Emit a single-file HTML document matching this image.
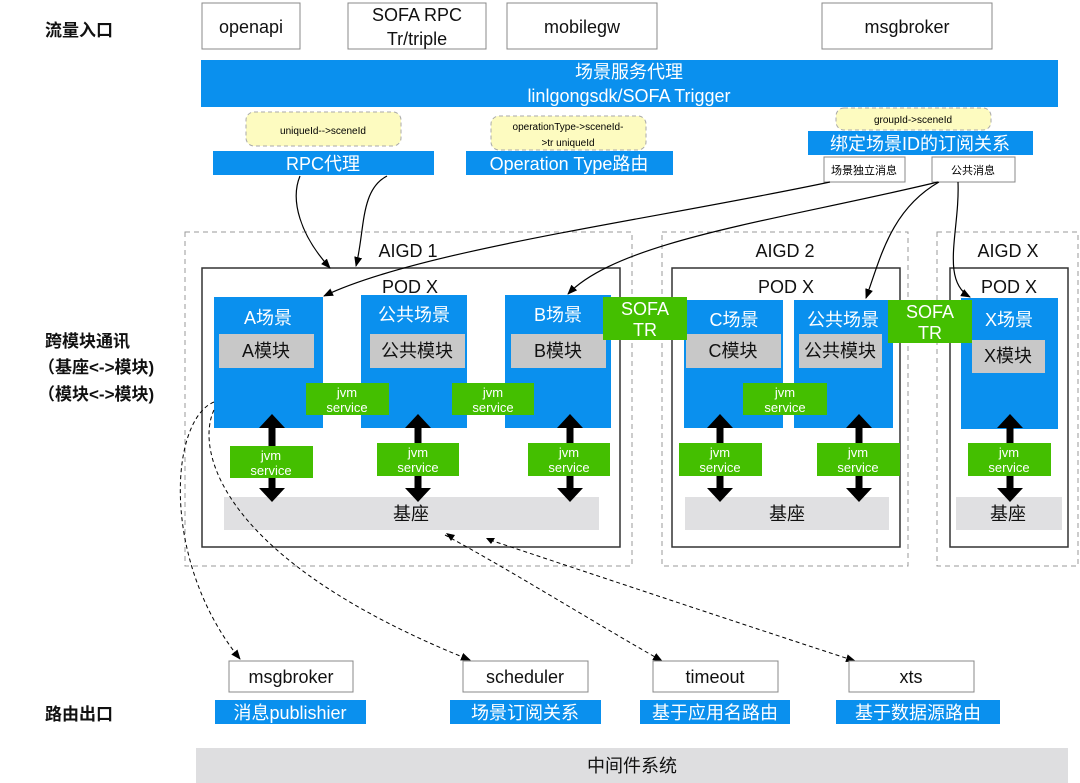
<!DOCTYPE html>
<html><head><meta charset="utf-8"><style>
html,body{margin:0;padding:0;background:#fff;}
svg{display:block;font-family:"Liberation Sans","Noto Sans CJK SC",sans-serif;}
</style></head><body>
<svg width="1080" height="783" viewBox="0 0 1080 783" xmlns="http://www.w3.org/2000/svg">
<defs>
<marker id="ar" markerWidth="10" markerHeight="8" refX="9" refY="4" orient="auto" markerUnits="userSpaceOnUse"><path d="M0,0 L10,4 L0,8 z" fill="#000"/></marker>
<g id="da" fill="#000"><rect x="-3.5" y="8" width="7" height="64"/><path d="M-13,10 L0,-4 L13,10z"/><path d="M-13,70 L0,84 L13,70z"/></g>
</defs>
<style>
.w{fill:#fff;stroke:#888;stroke-width:1}
.b{fill:#0a90ee}
.g{fill:#44bf00}
.gr{fill:#c8c8c8}
.bs{fill:#e0e0e2}
.t{font-size:18px;fill:#111;text-anchor:middle}
.tw{font-size:18px;fill:#fff;text-anchor:middle}
.tg{font-size:13px;fill:#fff;text-anchor:middle}
.lbl{font-size:17px;fill:#111;font-weight:bold}
.y{fill:#fdfbc0;stroke:#aaa;stroke-dasharray:4,3}
</style>
<!-- left labels -->
<text class="lbl" x="45" y="36">流量入口</text>
<text class="lbl" x="45" y="347">跨模块通讯</text>
<text class="lbl" x="38" y="373">（基座&lt;-&gt;模块)</text>
<text class="lbl" x="38" y="400">（模块&lt;-&gt;模块)</text>
<text class="lbl" x="45" y="720">路由出口</text>
<!-- top boxes -->
<rect class="w" x="202" y="3" width="98" height="46"/><text class="t" x="251" y="33">openapi</text>
<rect class="w" x="348" y="3" width="138" height="46"/><text class="t" x="417" y="21">SOFA RPC</text><text class="t" x="417" y="45">Tr/triple</text>
<rect class="w" x="507" y="3" width="150" height="46"/><text class="t" x="582" y="33">mobilegw</text>
<rect class="w" x="822" y="3" width="170" height="46"/><text class="t" x="907" y="33">msgbroker</text>
<rect class="b" x="201" y="60" width="857" height="47"/>
<text class="tw" x="629" y="78">场景服务代理</text>
<text class="tw" x="629" y="102">linlgongsdk/SOFA Trigger</text>
<!-- yellow notes -->
<rect class="y" x="246" y="112" width="155" height="34" rx="8"/><text x="323" y="134" font-size="10" text-anchor="middle">uniqueId-->sceneId</text>
<rect class="y" x="491" y="116" width="155" height="34" rx="8"/><text x="568" y="130" font-size="10" text-anchor="middle">operationType->sceneId-</text><text x="568" y="146" font-size="10" text-anchor="middle">>tr uniqueId</text>
<rect class="y" x="836" y="108" width="155" height="22" rx="8"/><text x="913" y="123" font-size="10" text-anchor="middle">groupId->sceneId</text>
<rect class="b" x="213" y="151" width="221" height="24"/><text class="tw" x="323" y="170">RPC代理</text>
<rect class="b" x="466" y="151" width="207" height="24"/><text class="tw" x="569" y="170">Operation Type路由</text>
<rect class="b" x="808" y="131" width="225" height="24"/><text class="tw" x="920" y="150">绑定场景ID的订阅关系</text>
<rect class="w" x="824" y="157" width="81" height="25"/><text x="864" y="174" font-size="11" text-anchor="middle">场景独立消息</text>
<rect class="w" x="932" y="157" width="83" height="25"/><text x="973" y="174" font-size="11" text-anchor="middle">公共消息</text>
<!-- AIGD containers -->
<g fill="none" stroke="#999" stroke-dasharray="5,4">
<rect x="185" y="232" width="447" height="334"/>
<rect x="662" y="232" width="246" height="334"/>
<rect x="937" y="232" width="141" height="334"/>
</g>
<text class="t" x="408" y="257">AIGD 1</text>
<text class="t" x="785" y="257">AIGD 2</text>
<text class="t" x="1008" y="257">AIGD X</text>
<g fill="#fff" stroke="#333" stroke-width="1.5">
<rect x="202" y="268" width="418" height="279"/>
<rect x="672" y="268" width="228" height="279"/>
<rect x="950" y="268" width="118" height="279"/>
</g>
<text class="t" x="410" y="293">POD X</text>
<text class="t" x="786" y="293">POD X</text>
<text class="t" x="1009" y="293">POD X</text>
<!-- scenes -->
<rect class="b" x="214" y="297" width="109" height="131"/><text class="tw" x="268" y="324">A场景</text>
<rect class="gr" x="219" y="334" width="95" height="34"/><text class="t" x="266" y="357" font-size="16">A模块</text>
<rect class="b" x="361" y="295" width="106" height="133"/><text class="tw" x="414" y="321">公共场景</text>
<rect class="gr" x="370" y="334" width="95" height="34"/><text class="t" x="417" y="357" font-size="16">公共模块</text>
<rect class="b" x="505" y="295" width="106" height="133"/><text class="tw" x="558" y="321">B场景</text>
<rect class="gr" x="511" y="334" width="95" height="34"/><text class="t" x="558" y="357" font-size="16">B模块</text>
<rect class="b" x="684" y="300" width="99" height="128"/><text class="tw" x="734" y="326">C场景</text>
<rect class="gr" x="686" y="334" width="95" height="34"/><text class="t" x="733" y="357" font-size="16">C模块</text>
<rect class="b" x="794" y="300" width="99" height="128"/><text class="tw" x="843" y="326">公共场景</text>
<rect class="gr" x="799" y="334" width="83" height="34"/><text class="t" x="840" y="357" font-size="16">公共模块</text>
<rect class="b" x="961" y="298" width="97" height="131"/><text class="tw" x="1009" y="326">X场景</text>
<rect class="gr" x="972" y="340" width="73" height="33"/><text class="t" x="1008" y="362" font-size="16">X模块</text>
<!-- SOFA TR -->
<rect class="g" x="603" y="297" width="84" height="43"/><text class="tw" x="645" y="315">SOFA</text><text class="tw" x="645" y="336">TR</text>
<rect class="g" x="888" y="300" width="84" height="43"/><text class="tw" x="930" y="318">SOFA</text><text class="tw" x="930" y="339">TR</text>
<!-- 基座 -->
<rect class="bs" x="224" y="497" width="375" height="33"/><text class="t" x="411" y="520">基座</text>
<rect class="bs" x="685" y="497" width="204" height="33"/><text class="t" x="787" y="520">基座</text>
<rect class="bs" x="956" y="497" width="106" height="33"/><text class="t" x="1008" y="520">基座</text>
<!-- thick arrows -->
<use href="#da" x="272" y="418"/>
<use href="#da" x="418" y="418"/>
<use href="#da" x="570" y="418"/>
<use href="#da" x="720" y="418"/>
<use href="#da" x="859" y="418"/>
<use href="#da" x="1010" y="418"/>
<!-- jvm service boxes -->
<rect class="g" x="306" y="383" width="83" height="32"/><text class="tg" x="347" y="397">jvm</text><text class="tg" x="347" y="412">service</text>
<rect class="g" x="452" y="383" width="82" height="32"/><text class="tg" x="493" y="397">jvm</text><text class="tg" x="493" y="412">service</text>
<rect class="g" x="743" y="383" width="84" height="32"/><text class="tg" x="785" y="397">jvm</text><text class="tg" x="785" y="412">service</text>
<rect class="g" x="230" y="446" width="83" height="32"/><text class="tg" x="271" y="460">jvm</text><text class="tg" x="271" y="475">service</text>
<rect class="g" x="377" y="443" width="82" height="33"/><text class="tg" x="418" y="457">jvm</text><text class="tg" x="418" y="472">service</text>
<rect class="g" x="528" y="443" width="82" height="33"/><text class="tg" x="569" y="457">jvm</text><text class="tg" x="569" y="472">service</text>
<rect class="g" x="679" y="443" width="83" height="33"/><text class="tg" x="720" y="457">jvm</text><text class="tg" x="720" y="472">service</text>
<rect class="g" x="817" y="443" width="83" height="33"/><text class="tg" x="858" y="457">jvm</text><text class="tg" x="858" y="472">service</text>
<rect class="g" x="968" y="443" width="83" height="33"/><text class="tg" x="1009" y="457">jvm</text><text class="tg" x="1009" y="472">service</text>
<!-- solid connectors -->
<g fill="none" stroke="#000" stroke-width="1.2" marker-end="url(#ar)">
<path d="M300,176 C290,200 300,235 330,268"/>
<path d="M387,176 C360,190 365,230 356,266"/>
<path d="M830,182 C650,220 420,250 324,296"/>
<path d="M938,182 C780,220 620,240 568,294"/>
<path d="M939,182 C890,210 880,260 866,298"/>
<path d="M958,182 C960,230 940,280 970,297"/>
</g>
<!-- dashed connectors -->
<g fill="none" stroke="#000" stroke-width="1" stroke-dasharray="4,3" marker-end="url(#ar)">
<path d="M214,402 C170,420 160,560 240,659"/>
<path d="M214,410 C195,450 220,560 470,660"/>
<path d="M445,535 C510,570 590,620 662,661"/>
<path d="M490,540 C640,590 760,630 855,661"/>
</g>
<path d="M446,533 l9,2 l-4,6z M486,538 l9,0 l-4,6z" fill="#000"/>
<!-- bottom -->
<rect class="w" x="229" y="661" width="124" height="31"/><text class="t" x="291" y="683">msgbroker</text>
<rect class="w" x="463" y="661" width="125" height="31"/><text class="t" x="525" y="683">scheduler</text>
<rect class="w" x="653" y="661" width="125" height="31"/><text class="t" x="715" y="683">timeout</text>
<rect class="w" x="849" y="661" width="125" height="31"/><text class="t" x="911" y="683">xts</text>
<rect class="b" x="215" y="700" width="151" height="24"/><text class="tw" x="290" y="719">消息publishier</text>
<rect class="b" x="450" y="700" width="151" height="24"/><text class="tw" x="525" y="719">场景订阅关系</text>
<rect class="b" x="640" y="700" width="150" height="24"/><text class="tw" x="715" y="719">基于应用名路由</text>
<rect class="b" x="836" y="700" width="164" height="24"/><text class="tw" x="918" y="719">基于数据源路由</text>
<rect x="196" y="748" width="872" height="35" fill="#dedee0"/><text class="t" x="632" y="772">中间件系统</text>
</svg>
</body></html>
